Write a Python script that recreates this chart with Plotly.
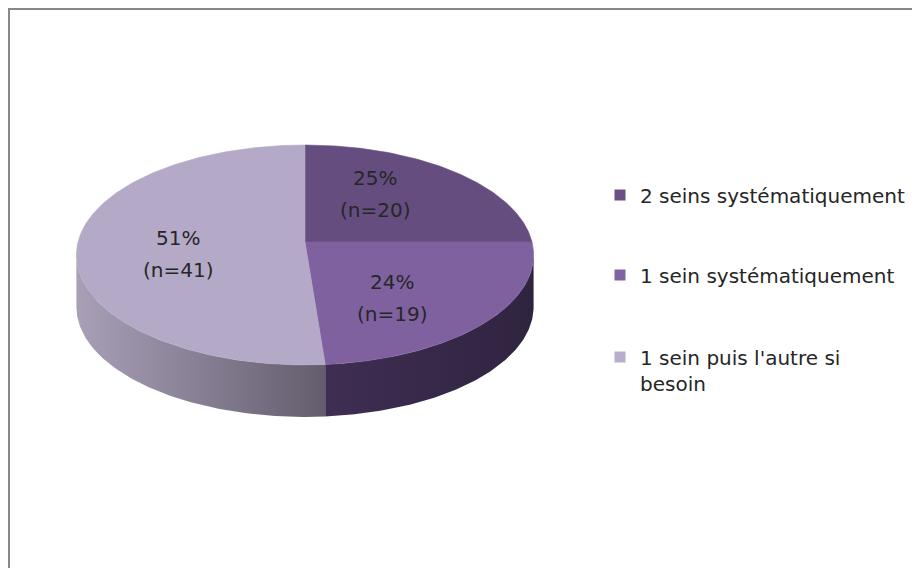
import numpy as np
import plotly.graph_objects as go

# ---- data ----
categories = ["2 seins systématiquement", "1 sein systématiquement", "1 sein puis l'autre si<br>besoin"]
counts = [20, 19, 41]

# ---- styles ----
top_colors = ["#664d80", "#7f61a0", "#b4aac8"]
side_colors = [("#4a3860", "#3e2e52"), ("#3f2e53", "#2f2440"), ("#a9a0b8", "#645d6d")]
legend_colors = ["#6a5084", "#8063a1", "#b8aecb"]
label_xy = [(375, 194), (392, 298), (178, 254)]
FONT = "DejaVu Sans"
TXT = "#262626"

# ---- geometry (page pixel space; page body has an 8px margin) ----
W, H = 920, 568
OFF = 8
CX, CY = 305, 242
A, B, K = 227, 108.4, 0.118
DEPTH = 52


def project(theta_deg, r=1.0):
    t = np.radians(theta_deg)
    u, v = r * np.sin(t), r * np.cos(t)
    d = 1 + K * v
    return CX + A * u / d, CY - B * v / d


total = sum(counts)
fracs = [c / total for c in counts]
bounds = np.concatenate([[0], np.cumsum(fracs) * 360])

vis0 = np.degrees(np.arccos(-K))
vis1 = 360 - vis0

fig = go.Figure()

# sides
for i in range(len(counts)):
    a0, a1 = max(bounds[i], vis0), min(bounds[i + 1], vis1)
    if a1 <= a0:
        continue
    th = np.linspace(a0, a1, 120)
    x, y = project(th)
    xs = np.concatenate([x, x[::-1], [x[0]]])
    ys = np.concatenate([y, y[::-1] + DEPTH, [y[0]]])
    fig.add_trace(go.Scatter(
        x=xs, y=ys, mode="lines", fill="toself", line=dict(width=0),
        fillgradient=dict(type="horizontal",
                          colorscale=[[0, side_colors[i][0]], [1, side_colors[i][1]]]),
        hoverinfo="skip", showlegend=False))

# top faces
for i in range(len(counts)):
    th = np.linspace(bounds[i], bounds[i + 1], 200)
    x, y = project(th)
    xs = np.concatenate([[CX], x, [CX]])
    ys = np.concatenate([[CY], y, [CY]])
    fig.add_trace(go.Scatter(
        x=xs, y=ys, mode="lines", fill="toself", fillcolor=top_colors[i],
        line=dict(width=0.6, color=top_colors[i]), hoverinfo="skip", showlegend=False))

# legend entries
legend_names = ["legend", "legend2", "legend3"]
for i, name in enumerate(categories):
    fig.add_trace(go.Scatter(
        x=[None], y=[None], mode="markers", name=name,
        marker=dict(symbol="square", size=11, color=legend_colors[i]),
        legend=legend_names[i], showlegend=True))

# labels
for i, c in enumerate(counts):
    pct = round(100 * c / total)
    lx, ly = label_xy[i]
    for txt, dy in ((f"{pct}%", -16), (f"(n={c})", 16)):
        fig.add_annotation(x=lx, y=ly + dy, xref="x", yref="y", text=txt, showarrow=False,
                           font=dict(family=FONT, size=20, color=TXT),
                           xanchor="center", yanchor="middle")


def py(p):
    return 1 - (p - OFF) / H


leg_common = dict(font=dict(family=FONT, size=20, color=TXT), bgcolor="rgba(0,0,0,0)",
                  valign="top", xanchor="left", yanchor="middle", x=(600 - OFF) / W)
fig.update_layout(
    width=W, height=H, margin=dict(l=0, r=0, t=0, b=0),
    paper_bgcolor="white", plot_bgcolor="white",
    xaxis=dict(range=[OFF, W + OFF], visible=False, fixedrange=True),
    yaxis=dict(range=[H + OFF, OFF], visible=False, fixedrange=True),
    legend=dict(**leg_common, y=py(195)),
    legend2=dict(**leg_common, y=py(275)),
    legend3=dict(**leg_common, y=py(370)),
    shapes=[dict(type="rect", xref="x", yref="y", x0=9, y0=9, x1=W + 20, y1=H + 20,
                 line=dict(color="#878787", width=2))],
)

fig.write_html("out.html")
